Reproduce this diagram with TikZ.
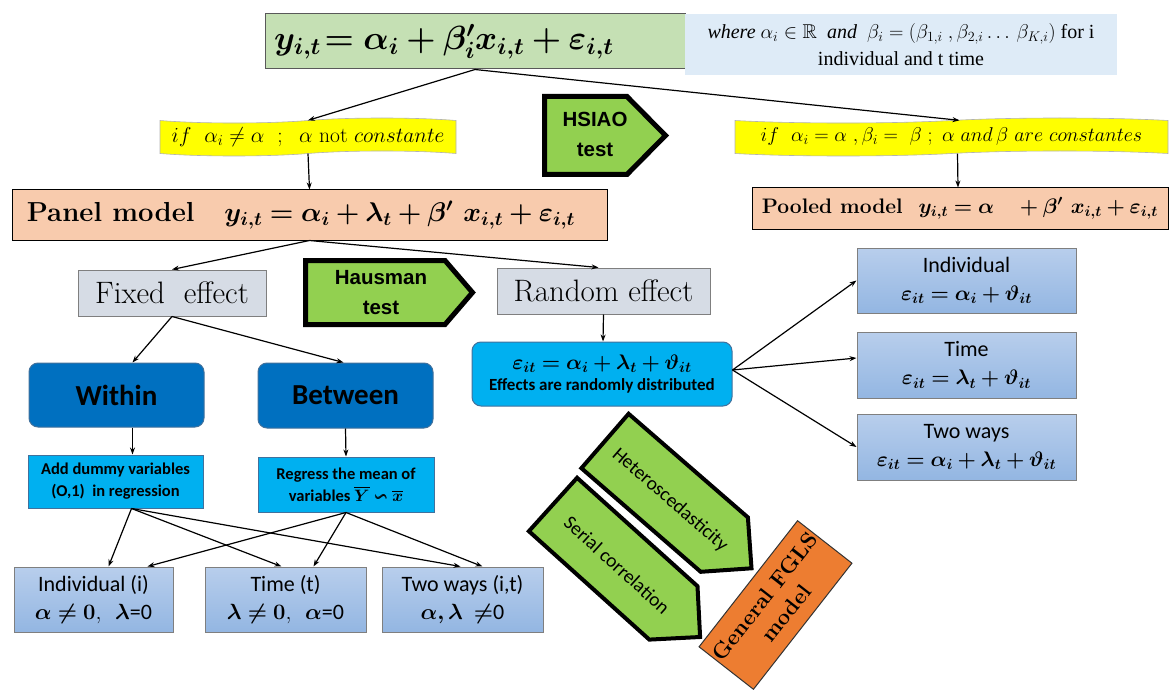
\RequirePackage{fix-cm}
\documentclass[tikz,border=0pt]{standalone}
\usepackage{amsmath,amssymb,bm}
\usepackage{fontspec}
\newfontfamily\calibri{Carlito}
\newfontfamily\timesf{Liberation Serif}
\newfontfamily\arialf{Liberation Sans}
\usetikzlibrary{arrows.meta,shapes.symbols}
\definecolor{topgreen}{HTML}{C5E0B4}
\definecolor{wherebg}{HTML}{DEEBF7}
\definecolor{yel}{HTML}{FFFF00}
\definecolor{testgreen}{HTML}{92D050}
\definecolor{peach}{HTML}{F8CBAD}
\definecolor{grayfill}{HTML}{D6DCE5}
\definecolor{darkblue}{HTML}{0070C0}
\definecolor{cyanbox}{HTML}{00B0F0}
\definecolor{lbtop}{HTML}{B8CEEC}
\definecolor{lbbot}{HTML}{93B6E2}
\definecolor{orangebox}{HTML}{ED7D31}
\definecolor{edgegray}{HTML}{7F7F7F}
\definecolor{edgeblue}{HTML}{41719C}
\tikzset{
  conn/.style={line width=1.2pt,-{Stealth[length=7pt,width=5pt]}},
  base/.style={inner sep=0pt,align=center},
  tapebox/.style={base,tape,tape bend top=in and out,tape bend bottom=in and out,tape bend height=5pt,fill=yel,draw=gray!60,line width=0.6pt},
  peachbox/.style={base,fill=peach,draw=black,line width=1pt},
  graybox/.style={base,fill=grayfill,draw=edgegray,line width=1pt,font=\fontsize{31}{34}\selectfont},
  dbbox/.style={base,rounded corners=9pt,fill=darkblue,draw=edgeblue,line width=1pt,font=\calibri\bfseries\fontsize{29}{32}\selectfont},
  cyanrect/.style={base,fill=cyanbox,draw=edgeblue,line width=1pt,font=\calibri\bfseries\fontsize{16.5}{22}\selectfont},
  lbbox/.style={base,top color=lbtop,bottom color=lbbot,draw=edgegray,line width=1pt,font=\calibri\fontsize{22}{28}\selectfont},
  testshape/.style={fill=testgreen,draw=black,line width=5pt,line join=miter},
  testtext/.style={base,font=\arialf\bfseries\fontsize{20.5}{30}\selectfont},
  gltext/.style={base,font=\calibri\fontsize{19.5}{22}\selectfont},
}
\begin{document}
\begin{tikzpicture}[x=1pt,y=-1pt]
\useasboundingbox (0,0) rectangle (1176,690);
% top
\node[base,fill=topgreen,draw=gray!70!black,line width=1pt,minimum width=420,minimum height=55,font=\fontsize{33.5}{36}\selectfont] (top) at (475,41.5) {\makebox[410pt][l]{\hspace{4pt}$\bm{y_{i,t}\!= \alpha_i + \beta_i' x_{i,t} + \varepsilon_{i,t}}$}};
\node[base,fill=wherebg,minimum width=432,minimum height=61,font=\timesf\fontsize{20}{27}\selectfont] (where) at (901,44.5) {\textit{where} $\alpha_i \in \mathbb{R}$ \ \textit{and} \ $\beta_i = (\beta_{1,i}\ ,\beta_{2,i}\ldots\,\beta_{K,i})$ for i\\individual and t time};
% conditions
\node[tapebox,minimum width=296,minimum height=38,font=\fontsize{21.5}{24}\selectfont] (yl) at (308,137) {$if\ \ \alpha_i\neq\alpha\ \ ;\ \ \alpha$ not $constante$};
\node[tapebox,minimum width=433,minimum height=38,font=\fontsize{20}{24}\selectfont] (yr) at (951.5,137) {$if\ \ \alpha_i=\alpha\ ,\beta_i=\ \beta\ ;\ \alpha\ and\,\beta\ are\ constantes$};
% HSIAO
\draw[testshape] (544.5,96.5) -- (627,96.5) -- (665.5,135.5) -- (627,174.5) -- (544.5,174.5) -- cycle;
\node[testtext] (hsiao) at (595,134) {HSIAO\\test};
% models
\node[peachbox,minimum width=595,minimum height=50,font=\fontsize{27.5}{30}\selectfont] (panel) at (309.5,215) {\bfseries Panel model\hspace{30pt}{\fontsize{27}{30}\selectfont$\bm{y_{i,t}=\alpha_i+\lambda_t+\beta'\ x_{i,t}+\varepsilon_{i,t}}$}\hspace{17pt}};
\node[peachbox,minimum width=416,minimum height=41,font=\fontsize{21}{24}\selectfont] (pooled) at (960,208.5) {\bfseries Pooled model \ $\bm{y_{i,t}=\alpha\quad+\beta'\ x_{i,t}+\varepsilon_{i,t}}$};
% effects
\node[graybox,minimum width=188,minimum height=46] (fixed) at (172,293) {Fixed\ \ effect};
\draw[testshape] (305.5,260.5) -- (445,260.5) -- (472.5,292.5) -- (445,324.5) -- (305.5,324.5) -- cycle;
\node[testtext] (hausman) at (381,293) {Hausman\\test};
\node[graybox,minimum width=213,minimum height=46] (random) at (603.5,291) {Random effect};
% fixed branch
\node[dbbox,minimum width=175,minimum height=64] (within) at (116.5,395) {Within};
\node[dbbox,minimum width=175,minimum height=65] (between) at (345.5,395.5) {Between};
\node[cyanrect,minimum width=175,minimum height=53] (dummy) at (115.5,481.5) {Add dummy variables\\(O,1)\ \ in regression};
\node[cyanrect,minimum width=176,minimum height=55] (regress) at (346,484.5) {Regress the mean of\\variables $\bm{\overline{Y}\backsim\overline{x}}$};
\node[lbbox,minimum width=159,minimum height=65] (bi) at (93.5,599.5) {Individual (i)\\$\bm{\alpha\neq 0},\ \ \bm{\lambda}$=0};
\node[lbbox,minimum width=161,minimum height=65] (bt) at (285.5,599.5) {Time (t)\\$\bm{\lambda\neq 0},\ \ \bm{\alpha}$=0};
\node[lbbox,minimum width=161,minimum height=65] (bw) at (462.5,599.5) {Two ways (i,t)\\$\bm{\alpha,\lambda}\ \bm{\neq}$0};
% random branch
\node[base,rounded corners=9pt,fill=cyanbox,draw=edgeblue,line width=1pt,minimum width=260,minimum height=64,font=\fontsize{21}{22}\selectfont] (re) at (602,374) {$\bm{\varepsilon_{it}=\alpha_i+\lambda_t+\vartheta_{it}}$\\[-1pt]{\calibri\bfseries\fontsize{17}{18}\selectfont Effects are randomly distributed}};
\node[lbbox,minimum width=219,minimum height=65] (ri) at (966.5,280.5) {Individual\\{\fontsize{21}{25}\selectfont$\bm{\varepsilon_{it}=\alpha_i+\vartheta_{it}}$}};
\node[lbbox,minimum width=219,minimum height=66] (rt) at (966.5,365) {Time\\{\fontsize{21}{25}\selectfont$\bm{\varepsilon_{it}=\lambda_t+\vartheta_{it}}$}};
\node[lbbox,minimum width=219,minimum height=66] (rw) at (966.5,447) {Two ways\\{\fontsize{21}{25}\selectfont$\bm{\varepsilon_{it}=\alpha_i+\lambda_t+\vartheta_{it}}$}};
% GLS arrows
\draw[testshape,line width=4pt] (628.6,413.8) -- (747.9,517.4) -- (751.5,568.3) -- (700.7,571.8) -- (581.4,468.2) -- cycle;
\node[gltext,rotate=-41] (hetero) at (670,500) {Heteroscedasticity};
\draw[testshape,line width=4pt] (577.1,477.8) -- (697.5,586.2) -- (700.1,637) -- (649.3,639.6) -- (528.9,531.2) -- cycle;
\node[gltext,rotate=-42] (serial) at (617,565) {Serial correlation};
\node[base,rotate=52,fill=orangebox,draw=black!80,line width=1pt,minimum width=160,minimum height=69,font=\bfseries\fontsize{22}{27}\selectfont] (fgls) at (775.5,605) {General FGLS\\model};
% connectors
\draw[conn] (top.south) -- (yl.north);
\draw[conn] (top.south) -- ([xshift=8pt]yr.north);
\draw[conn] (yl.south) -- (panel.north);
\draw[conn] ([xshift=6pt]yr.south) -- ([xshift=-2pt]pooled.north);
\draw[conn] (panel.south) -- (fixed.north);
\draw[conn] (panel.south) -- ([xshift=-5pt]random.north);
\draw[conn] (fixed.south) -- ([xshift=16pt]within.north);
\draw[conn] (fixed.south) -- ([xshift=-2pt]between.north);
\draw[conn] ([xshift=16pt]within.south) -- ([xshift=17pt]dummy.north);
\draw[conn] (between.south) -- (regress.north);
\draw[conn] (random.south) -- ([xshift=1pt]re.north);
\draw[conn] ([xshift=16pt]dummy.south) -- ([xshift=15pt]bi.north);
\draw[conn] ([xshift=16pt]dummy.south) -- ([xshift=-4pt]bt.north);
\draw[conn] ([xshift=16pt]dummy.south) -- ([xshift=-2pt]bw.north);
\draw[conn] (regress.south) -- ([xshift=54pt]bi.north);
\draw[conn] (regress.south) -- ([xshift=28pt]bt.north);
\draw[conn] (regress.south) -- ([xshift=20pt]bw.north);
\draw[conn] ([yshift=4pt]re.east) -- (ri.west);
\draw[conn] ([yshift=4pt]re.east) -- ([yshift=7pt]rt.west);
\draw[conn] ([yshift=4pt]re.east) -- (rw.west);
\end{tikzpicture}
\end{document}
